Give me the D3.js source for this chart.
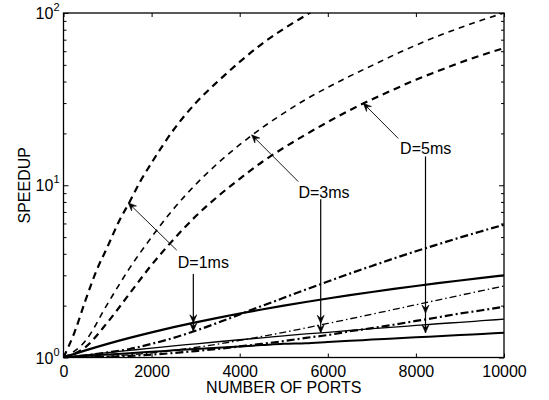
<!DOCTYPE html>
<html><head><meta charset="utf-8">
<script src="https://cdn.jsdelivr.net/npm/d3@7"></script>
<style>
body{margin:0;background:#fff}
text{font-family:Arial,"Liberation Sans",Helvetica,sans-serif;fill:#000}
</style>
</head><body><svg id="c" width="549" height="400"></svg>
<script>
// ---- data ----
const xTicks = [0, 2000, 4000, 6000, 8000, 10000];
const yTicks = [1, 10, 100];
const yTickExp = ["0", "1", "2"];
const xTitle = "NUMBER OF PORTS";
const yTitle = "SPEEDUP";

const portsA = [0, 250, 500, 750, 1000, 1250, 1500, 1750, 2000, 2500, 3000, 3500, 4000, 4500, 5000, 5500, 6000];
const dashA  = [1, 1.4, 2.15, 3.2, 4.4, 6.1, 8.0, 10.6, 13.5, 21, 30, 40, 52, 66, 81, 97, 116];

const ports = [0, 500, 1000, 1500, 2000, 2500, 3000, 3500, 4000, 4500, 5000, 5500, 6000, 6500, 7000, 7500, 8000, 8500, 9000, 9500, 10000];
const dashB = [1, 1.25, 2.05, 3.3, 5.0, 7.3, 10.1, 13.4, 17.2, 21.5, 26.2, 31.5, 37, 43, 49.5, 57, 65, 73.5, 82, 91, 100];
const dashC = [1, 1.15, 1.6, 2.35, 3.45, 4.85, 6.6, 8.6, 10.9, 13.6, 16.5, 19.7, 23.3, 27.3, 31.5, 36, 41, 46, 51.5, 57, 62.5];
const solid1 = [1, 1.1, 1.2, 1.3, 1.4, 1.5, 1.6, 1.7, 1.8, 1.9, 2.0, 2.1, 2.2, 2.3, 2.4, 2.5, 2.6, 2.7, 2.8, 2.9, 3.0];
const dashDot1 = [1, 1.03, 1.07, 1.12, 1.2, 1.3, 1.43, 1.59, 1.78, 1.99, 2.22, 2.48, 2.76, 3.07, 3.4, 3.76, 4.14, 4.54, 4.97, 5.42, 5.9];
const solid2 = [1, 1.033, 1.067, 1.1, 1.134, 1.167, 1.2, 1.234, 1.268, 1.3, 1.335, 1.37, 1.4, 1.435, 1.47, 1.5, 1.535, 1.57, 1.6, 1.635, 1.67];
const dashDot2 = [1, 1.004, 1.016, 1.036, 1.064, 1.1, 1.144, 1.196, 1.256, 1.324, 1.4, 1.484, 1.576, 1.676, 1.784, 1.9, 2.024, 2.156, 2.296, 2.444, 2.6];
const solid3 = [1, 1.02, 1.04, 1.06, 1.08, 1.1, 1.12, 1.14, 1.16, 1.18, 1.2, 1.21, 1.23, 1.25, 1.27, 1.29, 1.31, 1.33, 1.35, 1.37, 1.39];
const dashDot3 = [1, 1.0025, 1.01, 1.022, 1.04, 1.062, 1.09, 1.122, 1.16, 1.2, 1.245, 1.3, 1.35, 1.42, 1.48, 1.55, 1.63, 1.71, 1.8, 1.88, 1.97];

// annotations: label text, label anchor (data), up-arrow tail/tip (data), down arrow x & target values
const annLabels = ["D=1ms", "D=3ms", "D=5ms"];
const annLabelX = [3174, 5914, 8222];
const annLabelY = [3.6, 9.18, 16.4];
const annUpTail = [[2570, 4.2], [5330, 10.5], [7600, 18.7]];
const annUpTip  = [[1471, 7.9], [4272, 19.6], [6806, 29.9]];
const annDownX  = [2947, 5839, 8218];
const annDownTop = [3.05, 8.3, 14.7];
const annDownHeads = [[1.59, 1.42], [1.58, 1.39], [1.81, 1.39]];

// ---- drawing ----
const svg = d3.select("#c");
const L = 63.5, R = 504, T = 13, B = 357.5;
const x = d3.scaleLinear().domain([0, 10000]).range([L, R]);
const y = d3.scaleLog().domain([1, 100]).range([B, T]);

svg.append("rect").attr("width", 549).attr("height", 400).attr("fill", "#fff");
svg.append("defs").append("clipPath").attr("id", "clip")
  .append("rect").attr("x", L).attr("y", T).attr("width", R - L).attr("height", B - T);

const minor = [];
[1, 10].forEach(d => { for (let k = 2; k <= 9; k++) minor.push(d * k); });

function styleAxis(g) {
  g.select(".domain").remove();
  g.selectAll("line").attr("stroke", "#000").attr("stroke-width", 1);
  g.selectAll("text").attr("font-size", 16).attr("fill", "#000");
}

svg.append("g").attr("transform", `translate(0,${B})`)
  .call(d3.axisBottom(x).tickValues(xTicks).tickFormat(d3.format("d")).tickSizeInner(-4).tickSizeOuter(0).tickPadding(8))
  .call(styleAxis);
svg.append("g").attr("transform", `translate(0,${T})`)
  .call(d3.axisTop(x).tickValues(xTicks).tickFormat("").tickSizeInner(-4).tickSizeOuter(0))
  .call(styleAxis);
svg.append("g").attr("transform", `translate(${L},0)`)
  .call(d3.axisLeft(y).tickValues(yTicks).tickFormat("").tickSizeInner(-5).tickSizeOuter(0))
  .call(styleAxis);
svg.append("g").attr("transform", `translate(${L},0)`)
  .call(d3.axisLeft(y).tickValues(minor).tickFormat("").tickSizeInner(-3).tickSizeOuter(0))
  .call(styleAxis);
svg.append("g").attr("transform", `translate(${R},0)`)
  .call(d3.axisRight(y).tickValues(yTicks).tickFormat("").tickSizeInner(-5).tickSizeOuter(0))
  .call(styleAxis);
svg.append("g").attr("transform", `translate(${R},0)`)
  .call(d3.axisRight(y).tickValues(minor).tickFormat("").tickSizeInner(-3).tickSizeOuter(0))
  .call(styleAxis);

// y tick labels 10^n
yTicks.forEach((v, i) => {
  const t = svg.append("text").attr("x", L - 4).attr("y", y(v) + 6)
    .attr("text-anchor", "end").attr("font-size", 16);
  t.append("tspan").text("10");
  t.append("tspan").attr("dy", -8).attr("font-size", 11).text(yTickExp[i]);
});

// axis titles
svg.append("text").attr("x", (L + R) / 2).attr("y", 393).attr("text-anchor", "middle")
  .attr("font-size", 16).text(xTitle);
svg.append("text").attr("transform", `translate(30,${(T + B) / 2}) rotate(-90)`)
  .attr("text-anchor", "middle").attr("font-size", 16).text(yTitle);

// series
const plot = svg.append("g").attr("clip-path", "url(#clip)");
const line = d3.line().x(d => x(d[0])).y(d => y(d[1])).curve(d3.curveMonotoneX);
const series = [
  {xs: portsA, ys: dashA, w: 2.2, dash: "7,5"},
  {xs: ports, ys: dashB, w: 1.6, dash: "6,5"},
  {xs: ports, ys: dashC, w: 2.2, dash: "7,5"},
  {xs: ports, ys: solid1, w: 2.2, dash: null},
  {xs: ports, ys: dashDot1, w: 2.2, dash: "8,3,2,3"},
  {xs: ports, ys: solid2, w: 1.3, dash: null},
  {xs: ports, ys: dashDot2, w: 1.3, dash: "7,3,1.5,3"},
  {xs: ports, ys: solid3, w: 2.0, dash: null},
  {xs: ports, ys: dashDot3, w: 2.2, dash: "8,3,2,3"}
];
series.forEach(s => {
  plot.append("path").datum(s.xs.map((v, i) => [v, s.ys[i]]))
    .attr("d", line).attr("fill", "none").attr("stroke", "#000")
    .attr("stroke-width", s.w).attr("stroke-dasharray", s.dash);
});

// frame
svg.append("rect").attr("x", L).attr("y", T).attr("width", R - L).attr("height", B - T)
  .attr("fill", "none").attr("stroke", "#000").attr("stroke-width", 1.3);

// arrowhead helper (vback style)
function head(px, py, ang) {
  const len = 8, wid = 3.5, back = 3;
  const ca = Math.cos(ang), sa = Math.sin(ang);
  const p = (u, v) => [px - u * ca - v * sa, py - u * sa + v * ca];
  const pts = [p(0, 0), p(len, wid), p(len - back, 0), p(len, -wid)];
  svg.append("path").attr("d", "M" + pts.map(q => q.join(",")).join("L") + "Z")
    .attr("fill", "#000").attr("stroke", "#000").attr("stroke-width", 0.6);
}

annLabels.forEach((lab, i) => {
  const tx = x(annUpTail[i][0]), ty = y(annUpTail[i][1]);
  const hx = x(annUpTip[i][0]), hy = y(annUpTip[i][1]);
  svg.append("line").attr("x1", tx).attr("y1", ty).attr("x2", hx).attr("y2", hy)
    .attr("stroke", "#000").attr("stroke-width", 0.9);
  head(hx, hy, Math.atan2(hy - ty, hx - tx));
  const dx = x(annDownX[i]);
  const yBot = y(annDownHeads[i][1]);
  svg.append("line").attr("x1", dx).attr("y1", y(annDownTop[i])).attr("x2", dx).attr("y2", yBot)
    .attr("stroke", "#000").attr("stroke-width", 1.2);
  annDownHeads[i].forEach(v => head(dx, y(v), Math.PI / 2));
  svg.append("text").attr("x", x(annLabelX[i])).attr("y", y(annLabelY[i]) + 6)
    .attr("text-anchor", "middle").attr("font-size", 16).text(lab);
});
</script>
</body></html>
